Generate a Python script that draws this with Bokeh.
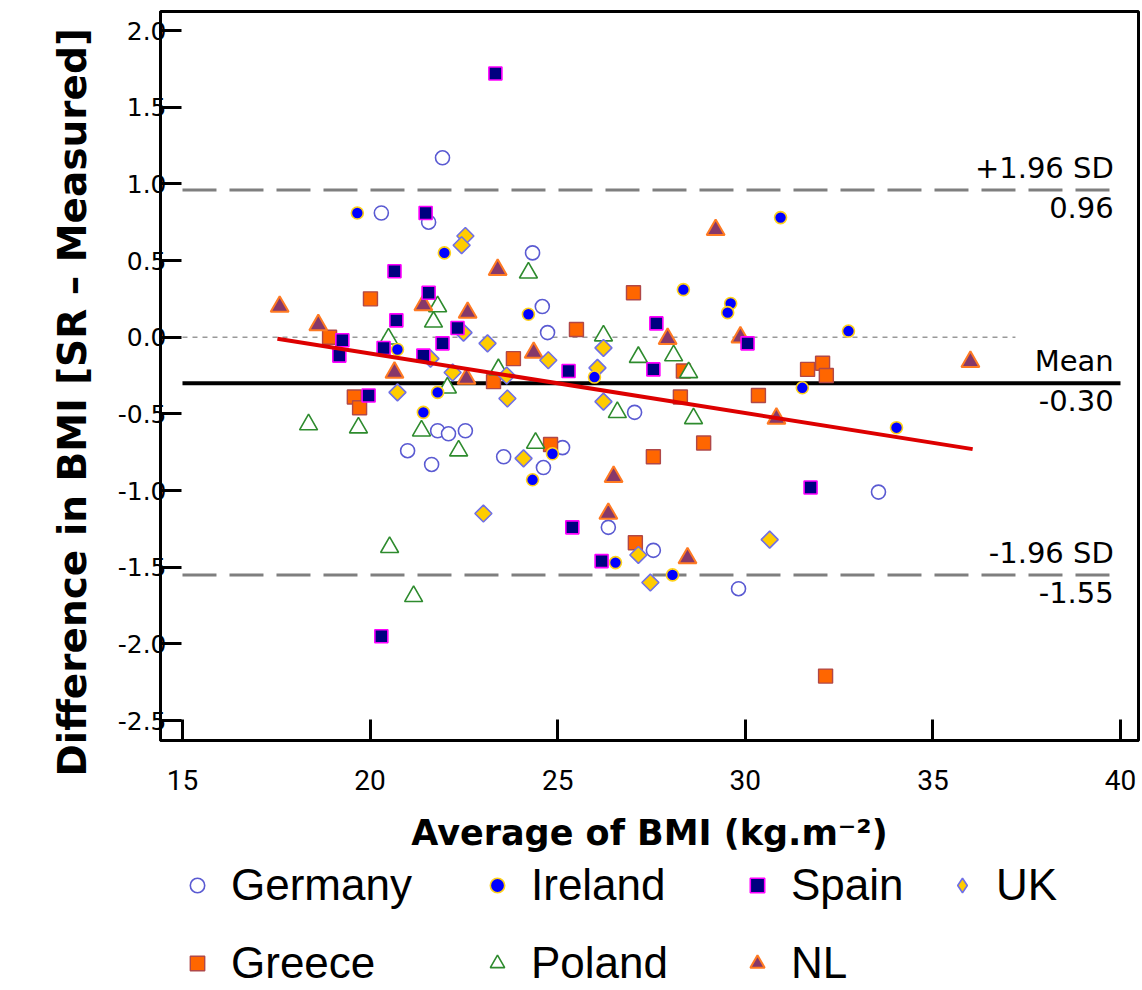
from bokeh.plotting import figure
from bokeh.models import Legend, LegendItem, Range1d, Title
from bokeh.layouts import column
from bokeh.embed import file_html
from bokeh.resources import INLINE
from bokeh.core.properties import value

# ---------------- data ----------------
germany_x = [21.93, 20.30, 21.56, 24.33, 24.59, 24.73, 21.80, 22.09, 22.54, 21.00,
             21.64, 23.56, 24.62, 25.13, 27.05, 33.55, 26.35, 27.55, 29.82]
germany_y = [1.17, 0.81, 0.75, 0.55, 0.20, 0.03, -0.61, -0.63, -0.61, -0.74,
             -0.83, -0.78, -0.85, -0.72, -0.49, -1.01, -1.24, -1.39, -1.64]

ireland_x = [19.66, 21.98, 24.22, 20.73, 28.35, 29.61, 29.53, 32.75, 30.94, 21.80,
             21.42, 24.33, 24.86, 25.98, 31.52, 34.03, 26.54, 28.06]
ireland_y = [0.81, 0.55, 0.15, -0.08, 0.31, 0.22, 0.16, 0.04, 0.78, -0.36,
             -0.49, -0.93, -0.76, -0.26, -0.33, -0.59, -1.47, -1.55]

spain_x = [23.34, 21.48, 20.65, 21.56, 20.70, 22.33, 21.93, 19.26, 19.18, 21.42,
           20.36, 27.63, 30.06, 25.29, 27.55, 19.96, 20.30, 31.74, 25.39, 26.17]
spain_y = [1.72, 0.81, 0.43, 0.29, 0.11, 0.06, -0.04, -0.02, -0.12, -0.12,
           -0.07, 0.09, -0.04, -0.22, -0.21, -0.38, -1.95, -0.98, -1.24, -1.46]

uk_x = [22.54, 22.44, 22.49, 23.13, 21.61, 24.75, 22.20, 20.73, 23.66, 24.09,
        23.02, 26.22, 26.06, 26.22, 27.15, 30.65, 27.47, 23.64]
uk_y = [0.66, 0.60, 0.03, -0.04, -0.14, -0.15, -0.23, -0.36, -0.40, -0.79,
        -1.15, -0.07, -0.20, -0.42, -1.42, -1.32, -1.60, -0.25]

greece_x = [20.01, 18.92, 23.82, 19.58, 19.72, 27.02, 25.50, 28.35, 31.66, 32.06,
            32.16, 28.27, 30.35, 24.81, 27.55, 28.89, 27.07, 32.14, 23.29]
greece_y = [0.25, 0.00, -0.14, -0.39, -0.46, 0.29, 0.05, -0.22, -0.21, -0.17,
            -0.25, -0.39, -0.38, -0.70, -0.78, -0.69, -1.34, -2.21, -0.29]

poland_x = [24.22, 21.80, 21.69, 20.49, 23.42, 22.06, 26.22, 27.15, 28.09, 28.49,
            26.59, 28.62, 18.36, 19.69, 21.37, 22.36, 24.41, 20.52, 21.16]
poland_y = [0.42, 0.20, 0.10, -0.01, -0.21, -0.33, 0.01, -0.13, -0.12, -0.23,
            -0.49, -0.53, -0.57, -0.59, -0.61, -0.74, -0.69, -1.37, -1.69]

nl_x = [17.59, 18.62, 21.42, 22.60, 23.40, 24.36, 20.65, 22.57, 29.21, 27.93,
        29.87, 30.83, 26.49, 26.35, 28.46, 36.00]
nl_y = [0.20, 0.08, 0.21, 0.16, 0.44, -0.10, -0.23, -0.27, 0.70, -0.01,
        0.00, -0.53, -0.91, -1.15, -1.44, -0.16]

mean_diff = -0.30
upper_loa = 0.96
lower_loa = -1.55
line_x = [15.0, 40.0]          # extent of mean line
loa_x = [15.0, 39.8]           # extent of limit-of-agreement lines
zero_x = [15.0, 37.2]          # extent of the zero reference line
reg_x = [17.53, 36.06]         # regression line ends
reg_y = [-0.01, -0.73]

x_ticks = [15, 20, 25, 30, 35, 40]
y_ticks = [2.0, 1.5, 1.0, 0.5, 0.0, -0.5, -1.0, -1.5, -2.0, -2.5]

series = {
    "Germany": (germany_x, germany_y),
    "Ireland": (ireland_x, ireland_y),
    "Spain": (spain_x, spain_y),
    "UK": (uk_x, uk_y),
    "Greece": (greece_x, greece_y),
    "Poland": (poland_x, poland_y),
    "NL": (nl_x, nl_y),
}

# marker styles per country
styles = {
    "Germany": dict(marker="circle", size=14, fill_color="white", line_color="#5a5ad2", line_width=1.6),
    "Greece": dict(marker="square", size=14, fill_color="#ff6600", line_color="#b04848", line_width=1.4),
    "Poland": dict(marker="triangle", size=18, fill_color="white", line_color="#2e8b2e", line_width=1.6),
    "NL": dict(marker="triangle", size=18, fill_color="#86386a", line_color="#ff7a22", line_width=2),
    "UK": dict(marker="square", angle=0.785398, size=12, fill_color="#ffcc00", line_color="#6f6fe6", line_width=1.6),
    "Ireland": dict(marker="circle", size=12, fill_color="#0000ff", line_color="#ffd21a", line_width=1.6),
    "Spain": dict(marker="square", size=13, fill_color="#000080", line_color="#ff00ff", line_width=1.6),
}
legend_styles = dict(styles)
legend_styles["UK"] = dict(marker="diamond", size=18, fill_color="#ffcc00", line_color="#6f6fe6", line_width=1.6)
draw_order = ["Germany", "Greece", "Poland", "NL", "UK", "Ireland", "Spain"]

# ---------------- main figure ----------------
W = 1140
FRAME_LEFT = 160
FRAME_TOP = 11
FRAME_BOTTOM = 740
H = 856
p = figure(width=W, height=H, output_backend="svg", toolbar_location=None,
           x_range=Range1d(14.414, 40.48), y_range=Range1d(-2.63, 2.124),
           min_border_left=FRAME_LEFT, min_border_right=2, min_border_top=FRAME_TOP,
           min_border_bottom=H - FRAME_BOTTOM)
p.grid.visible = False
p.outline_line_color = "black"
p.outline_line_width = 3
p.background_fill_color = "white"
p.border_fill_color = "white"

for ax in (p.xaxis[0], p.yaxis[0]):
    ax.axis_line_width = 3
    ax.axis_line_color = "black"
    ax.major_tick_in = 21
    ax.major_tick_out = 0
    ax.minor_tick_in = 0
    ax.minor_tick_out = 0
    ax.major_tick_line_width = 3
    ax.minor_tick_line_color = None
    ax.major_label_text_color = "black"
    ax.axis_label_text_color = "black"
    ax.axis_label_text_font_style = "bold"

p.xaxis.ticker = x_ticks
p.yaxis.ticker = y_ticks
p.yaxis.major_label_overrides = {t: f"{t:.1f}" for t in y_ticks}
p.xaxis.major_label_text_font = "Roboto"
p.xaxis.major_label_text_font_size = "28px"
p.xaxis.major_label_standoff = 29
p.yaxis.major_label_text_font = "DejaVu Sans"
p.yaxis.major_label_text_font_size = "25px"
p.yaxis.major_label_standoff = -6

p.xaxis.axis_label = "Average of BMI (kg.m\u207b\u00b2)"
p.xaxis.axis_label_text_font = "DejaVu Sans"
p.xaxis.axis_label_text_font_size = "35px"
p.xaxis.axis_label_standoff = 20

# y title as a left-side Title so that it can sit a little lower than the frame centre
ytitle = Title(text="Difference in BMI [SR \u2013 Measured]", align="left", offset=-36,
               vertical_align="top",
               text_font="DejaVu Sans", text_font_size="39px", text_font_style="bold",
               text_color="black")
try:
    ytitle.standoff = 35
except AttributeError:
    pass
p.add_layout(ytitle, "left")

# reference lines
p.line(zero_x, [0.0, 0.0], line_color="#999999", line_width=1.5, line_dash="5 5")
p.line(loa_x, [upper_loa, upper_loa], line_color="#7f7f7f", line_width=3, line_dash="34 13")
p.line(loa_x, [lower_loa, lower_loa], line_color="#7f7f7f", line_width=3, line_dash="34 13")
p.line(line_x, [mean_diff, mean_diff], line_color="black", line_width=4)

# points
for nm in draw_order:
    xs, ys = series[nm]
    p.scatter(xs, ys, **styles[nm])

# regression line
p.line(reg_x, reg_y, line_color="#dd0000", line_width=4)

# labels
lab_x = 39.82
lab_font = value("DejaVu Sans")
for yv, top_txt in ((upper_loa, "+1.96 SD"), (mean_diff, "Mean"), (lower_loa, "-1.96 SD")):
    p.text([lab_x], [yv], text=[top_txt], text_align="right", text_baseline="bottom",
           y_offset=-5, text_font=lab_font, text_font_size="29px", text_color="black")
    p.text([lab_x], [yv], text=[f"{yv:.2f}"], text_align="right", text_baseline="top",
           y_offset=7, text_font=lab_font, text_font_size="29px", text_color="black")

# ---------------- legend strip ----------------
LH = 134
q = figure(width=W, height=LH, output_backend="svg", toolbar_location=None,
           x_range=Range1d(0, 1), y_range=Range1d(0, 1),
           x_axis_location=None, y_axis_location=None,
           min_border_left=FRAME_LEFT, min_border_right=2, min_border_top=0, min_border_bottom=0)
q.grid.visible = False
q.outline_line_color = None
q.background_fill_color = "white"
q.border_fill_color = "white"

legend_columns = [["Germany", "Greece"], ["Ireland", "Poland"], ["Spain", "NL"], ["UK"]]
marker_centers = [197, 497, 757, 962]          # page x of the legend markers
ROW_H = 50
ROW_GAP = 28
GLYPH = 36
for names, mx in zip(legend_columns, marker_centers):
    items = []
    for nm in names:
        xs, ys = series[nm]
        r = q.scatter(xs, ys, **legend_styles[nm])   # outside q's ranges: only the legend shows
        items.append(LegendItem(label=nm, renderers=[r]))
    leg = Legend(items=items, orientation="vertical")
    leg.label_text_font = "Liberation Sans"
    leg.label_text_font_size = "44px"
    leg.label_text_color = "black"
    leg.label_height = ROW_H
    leg.glyph_width = GLYPH
    leg.glyph_height = GLYPH
    leg.label_standoff = 16
    leg.spacing = ROW_GAP
    leg.padding = 0
    leg.margin = 0
    leg.border_line_color = None
    leg.background_fill_alpha = 0
    n = len(names)
    lx = mx - GLYPH // 2 - FRAME_LEFT
    leg.location = (lx, 2 + (2 - n) * (ROW_H + ROW_GAP))
    q.add_layout(leg)

open("out.html", "w").write(file_html(column(p, q, spacing=0), INLINE))
